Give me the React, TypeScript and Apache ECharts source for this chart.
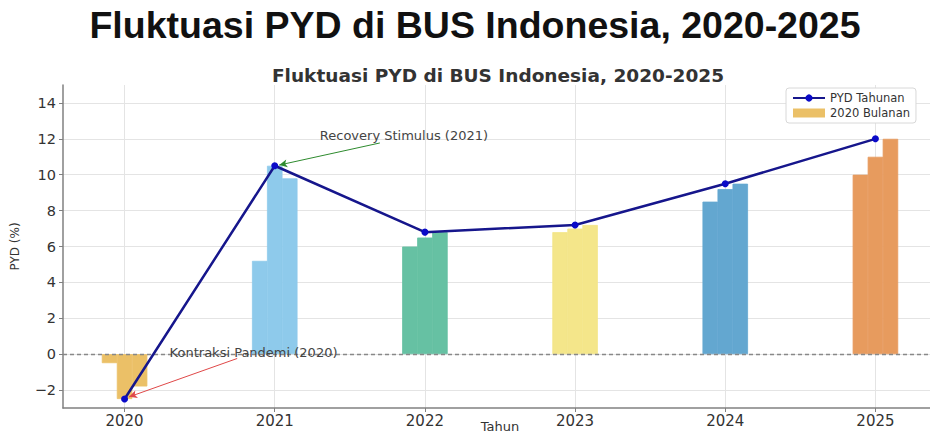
import React, { useEffect, useRef } from 'react';
import * as echarts from 'echarts';

const years = [2020, 2021, 2022, 2023, 2024, 2025];
const annualPYD = [-2.5, 10.5, 6.8, 7.2, 9.5, 12.0];
const monthlyOffsets = [-0.1, 0, 0.1];
const monthly2020 = [-0.5, -2.5, -1.8];
const monthly2021 = [5.2, 10.5, 9.8];
const monthly2022 = [6.0, 6.5, 6.8];
const monthly2023 = [6.8, 7.0, 7.2];
const monthly2024 = [8.5, 9.2, 9.5];
const monthly2025 = [10.0, 11.0, 12.0];
const monthlyByYear = [monthly2020, monthly2021, monthly2022, monthly2023, monthly2024, monthly2025];
const barColors = ['#EBC067', '#8ECAEB', '#66C1A3', '#F4E68A', '#63A7D0', '#E79B5E'];
const yTicks = [-2, 0, 2, 4, 6, 8, 10, 12, 14];

const mainTitle = 'Fluktuasi PYD di BUS Indonesia, 2020-2025';
const chartTitle = 'Fluktuasi PYD di BUS Indonesia, 2020-2025';
const lineName = 'PYD Tahunan';
const barName = '2020 Bulanan';
const annoRecovery = { text: 'Recovery Stimulus (2021)', textAt: [2021.3, 12.2], from: [2021.7, 11.77], to: [2021.03, 10.54] };
const annoContraction = { text: 'Kontraksi Pandemi (2020)', textAt: [2020.3, 0.1], from: [2020.75, -0.24], to: [2020.03, -2.38] };

const FONT = 'DejaVu Sans';

export default function App() {
  const ref = useRef<HTMLDivElement>(null);
  useEffect(() => {
    if (!ref.current) return;
    const chart = echarts.init(ref.current, null, { renderer: 'svg' });
    const barData: any[] = [];
    years.forEach((y, i) => {
      monthlyOffsets.forEach((o, j) => {
        barData.push({
          value: [y + o, monthlyByYear[i][j]],
          itemStyle: { color: barColors[i], borderColor: barColors[i], borderWidth: 0.8 },
        });
      });
    });
    const lineData = years.map((y, i) => [y, annualPYD[i]]);
    const minus = (v: number) => String(v).replace('-', '\u2212');

    const option: any = {
      animation: false,
      textStyle: { fontFamily: FONT },
      graphic: [
        {
          type: 'text', x: 475, y: 25,
          style: { text: mainTitle, fontFamily: 'Liberation Sans', fontWeight: 'bold', fontSize: 37.5, fill: '#111', align: 'center', verticalAlign: 'middle' },
        },
        {
          type: 'text', x: 498, y: 75,
          style: { text: chartTitle, fontFamily: FONT, fontWeight: 'bold', fontSize: 18.5, fill: '#333', align: 'center', verticalAlign: 'middle' },
        },
      ],
      legend: {
        orient: 'vertical',
        left: 786, top: 88,
        padding: [4, 6, 4, 6],
        itemGap: 3,
        itemWidth: 32, itemHeight: 9,
        borderColor: '#d8d8d8', borderWidth: 1, borderRadius: 3,
        backgroundColor: '#fff',
        textStyle: { fontFamily: FONT, fontSize: 11.5, color: '#333' },
        data: [{ name: lineName }, { name: barName, icon: 'rect' }],
      },
      grid: { left: 63, top: 85, width: 874, height: 323, containLabel: false, outerBoundsMode: 'none' },
      xAxis: {
        type: 'value', min: 2019.59, max: 2025.41,
        name: 'Tahun', nameLocation: 'middle', nameGap: 12, nameMoveOverlap: false,
        nameTextStyle: { fontFamily: FONT, fontSize: 13, color: '#333', verticalAlign: 'top' },
        axisLine: { show: true, onZero: false, lineStyle: { color: '#808080', width: 1.5 } },
        axisTick: { show: true, inside: false, length: 4, customValues: years, lineStyle: { color: '#808080' } },
        axisLabel: { customValues: years, margin: 5, fontFamily: FONT, fontSize: 15, color: '#333', formatter: (v: number) => String(Math.round(v)) },
        splitLine: { show: false },
      },
      yAxis: {
        type: 'value', min: -3, max: 15,
        name: 'PYD (%)', nameLocation: 'middle', nameGap: 42, nameRotate: 90, nameMoveOverlap: false,
        nameTextStyle: { fontFamily: FONT, fontSize: 12, color: '#333' },
        axisLine: { show: true, onZero: false, lineStyle: { color: '#808080', width: 1.5 } },
        axisTick: { show: true, inside: false, length: 4, customValues: yTicks, lineStyle: { color: '#808080' } },
        axisLabel: { customValues: yTicks, margin: 7, fontFamily: FONT, fontSize: 14.5, color: '#333', formatter: (v: number) => minus(v) },
        splitLine: { show: false },
      },
      series: [
        {
          name: 'grid', type: 'line', data: lineData, symbol: 'none', silent: true,
          lineStyle: { opacity: 0 }, z: 0,
          markLine: {
            z: 0,
            silent: true, symbol: ['none', 'none'], label: { show: false },
            lineStyle: { color: '#e4e4e4', width: 1, type: 'solid' },
            data: [
              ...years.map((y) => ({ xAxis: y })),
              ...yTicks.map((t) => ({ yAxis: t })),
            ],
          },
        },
        {
          name: barName, type: 'bar', data: barData, barWidth: 15.5, z: 2,
          itemStyle: { color: barColors[0] },
          markLine: {
            z: 3,
            silent: true, symbol: ['none', 'none'], label: { show: false },
            lineStyle: { color: '#888', width: 1.3, type: [4, 3] },
            data: [{ yAxis: 0 }],
          },
        },
        {
          name: lineName, type: 'line', data: lineData, z: 5,
          symbol: 'circle', symbolSize: 7,
          itemStyle: { color: '#0a0ac8' },
          lineStyle: { color: '#16168c', width: 2.5 },
        },
        {
          name: 'annotations', type: 'line', data: [], z: 6, silent: true,
          markLine: {
            z: 6,
            silent: true, symbol: ['none', 'arrow'], symbolSize: [6, 8], label: { show: false },
            data: [
              [{ coord: annoRecovery.from, lineStyle: { color: '#2e8b2e', width: 1, type: 'solid' } }, { coord: annoRecovery.to }],
              [{ coord: annoContraction.from, lineStyle: { color: '#e04848', width: 1, type: 'solid' } }, { coord: annoContraction.to }],
            ],
          },
          markPoint: {
            z: 6,
            silent: true, symbol: 'circle', symbolSize: 0,
            data: [
              { coord: annoRecovery.textAt, label: { show: true, position: 'right', distance: 0, formatter: annoRecovery.text, fontFamily: FONT, fontSize: 13, color: '#444' } },
              { coord: annoContraction.textAt, label: { show: true, position: 'right', distance: 0, formatter: annoContraction.text, fontFamily: FONT, fontSize: 13, color: '#444' } },
            ],
          },
        },
      ],
    };
    chart.setOption(option);
    return () => chart.dispose();
  }, []);
  return <div ref={ref} style={{ position: 'fixed', left: 0, top: 0, width: 930, height: 434, background: '#fff' }} />;
}
